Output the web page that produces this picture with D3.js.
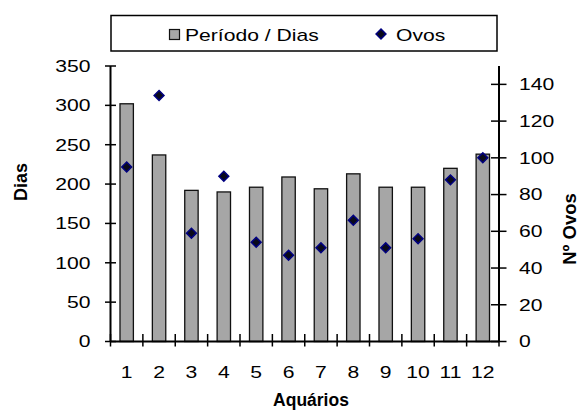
<!DOCTYPE html>
<html>
<head>
<meta charset="utf-8">
<script src="https://cdn.jsdelivr.net/npm/d3@7"></script>
<style>
  html, body { margin: 0; padding: 0; background: #fff; }
  svg text { font-family: "Liberation Sans", Arial, sans-serif; fill: #000; }
</style>
</head>
<body>
<svg id="chart" width="580" height="412"></svg>
<script>
// Aquarium numbers, period length (days) and egg counts
const aquarios = ["1","2","3","4","5","6","7","8","9","10","11","12"];
const periodoDias = [302, 237, 192, 190, 196, 209, 194, 213, 196, 196, 220, 238];
const ovos = [95, 134, 59, 90, 54, 47, 51, 66, 51, 56, 88, 100];
const diasTicks = [0, 50, 100, 150, 200, 250, 300, 350];
const ovosTicks = [0, 20, 40, 60, 80, 100, 120, 140];

const svg = d3.select("#chart");
const m = { left: 110.5, right: 499, top: 66, bottom: 341.5 };
const SX = 1.32; // horizontal widening of the regular label face

const xb = d3.scaleBand().domain(aquarios).range([m.left, m.right]);
const yL = d3.scaleLinear().domain([0, 350]).range([m.bottom, m.top]);
const yR = d3.scaleLinear().domain([0, 150]).range([m.bottom, m.top]);
const cx = d => xb(d) + xb.bandwidth() / 2;

// regular label helper: widened 16px text
function label(g, x, y, txt, anchor) {
  return g.append("text")
    .attr("transform", `translate(${x},${y}) scale(${SX},1)`)
    .attr("text-anchor", anchor || "start")
    .attr("font-size", 16)
    .text(txt);
}

// bars
svg.append("g").selectAll("rect").data(aquarios).join("rect")
  .attr("x", d => cx(d) - 6.7)
  .attr("width", 13.4)
  .attr("y", (d, i) => yL(periodoDias[i]))
  .attr("height", (d, i) => yL(0) - yL(periodoDias[i]))
  .attr("fill", "#a6a6a6")
  .attr("stroke", "#111")
  .attr("stroke-width", 1.3);

// left axis
const axL = svg.append("g");
axL.append("line").attr("x1", m.left).attr("x2", m.left).attr("y1", m.top).attr("y2", m.bottom)
  .attr("stroke", "#000").attr("stroke-width", 2);
axL.selectAll("line.t").data(diasTicks).join("line").attr("class", "t")
  .attr("x1", m.left - 5.5).attr("x2", m.left + 5.5).attr("y1", d => yL(d)).attr("y2", d => yL(d))
  .attr("stroke", "#000").attr("stroke-width", 1.5);
diasTicks.forEach(d => label(axL, 90.5, yL(d) + 5.8, d, "end"));

// right axis
const axR = svg.append("g");
axR.append("line").attr("x1", m.right).attr("x2", m.right).attr("y1", m.top).attr("y2", m.bottom)
  .attr("stroke", "#000").attr("stroke-width", 2);
axR.selectAll("line.t").data(ovosTicks).join("line").attr("class", "t")
  .attr("x1", m.right - 8).attr("x2", m.right + 7.5).attr("y1", d => yR(d)).attr("y2", d => yR(d))
  .attr("stroke", "#000").attr("stroke-width", 1.5);
ovosTicks.forEach(d => label(axR, 519, yR(d) + 5.8, d, "start"));

// bottom axis
const axB = svg.append("g");
axB.append("line").attr("x1", m.left).attr("x2", m.right).attr("y1", m.bottom).attr("y2", m.bottom)
  .attr("stroke", "#000").attr("stroke-width", 2);
const bounds = aquarios.map(d => xb(d)).concat([m.right]);
axB.selectAll("line.t").data(bounds).join("line").attr("class", "t")
  .attr("x1", d => d).attr("x2", d => d).attr("y1", m.bottom - 7.5).attr("y2", m.bottom + 5)
  .attr("stroke", "#000").attr("stroke-width", 1.5);
aquarios.forEach(d => label(axB, cx(d), 378, d, "middle"));

// egg markers
const diamond = d3.symbol().type(d3.symbolDiamond2).size(62);
svg.append("g").selectAll("path").data(aquarios).join("path")
  .attr("d", diamond)
  .attr("transform", (d, i) => `translate(${cx(d)},${yR(ovos[i])})`)
  .attr("fill", "#0a0a1a").attr("stroke", "#000080").attr("stroke-width", 1.5);

// axis titles
svg.append("text").attr("transform", "translate(26.5,182) rotate(-90)")
  .attr("text-anchor", "middle").attr("font-size", 18).attr("font-weight", "bold").text("Dias");
svg.append("text").attr("transform", "translate(576,229) rotate(-90)")
  .attr("text-anchor", "middle").attr("font-size", 18.5).attr("font-weight", "bold").text("Nº Ovos");
svg.append("text").attr("x", 311).attr("y", 406)
  .attr("text-anchor", "middle").attr("font-size", 17.5).attr("font-weight", "bold").text("Aquários");

// legend
const lg = svg.append("g");
lg.append("rect").attr("x", 111).attr("y", 15.5).attr("width", 386).attr("height", 35.5)
  .attr("fill", "#fff").attr("stroke", "#000").attr("stroke-width", 1.5);
lg.append("rect").attr("x", 169.5).attr("y", 29.5).attr("width", 10).attr("height", 10)
  .attr("fill", "#a6a6a6").attr("stroke", "#111").attr("stroke-width", 1.2);
label(lg, 185, 40.5, "Período / Dias");
lg.append("path").attr("d", diamond)
  .attr("transform", "translate(381,34)")
  .attr("fill", "#0a0a1a").attr("stroke", "#000080").attr("stroke-width", 1.5);
label(lg, 396, 40.5, "Ovos");
</script>
</body>
</html>
